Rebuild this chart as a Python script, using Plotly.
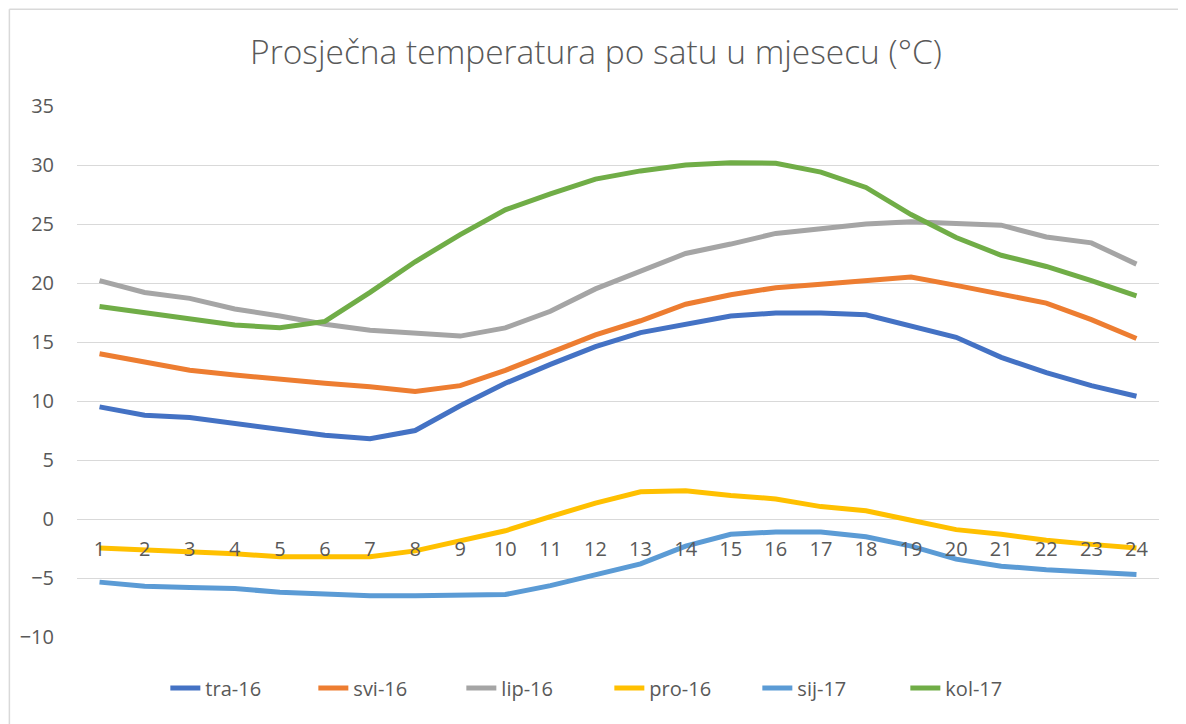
import plotly.graph_objects as go

hours = list(range(1, 25))

tra_16 = [9.5, 8.8, 8.6, 8.1, 7.7, 7.1, 6.8, 7.5, 9.6, 11.5, 13.1, 14.6, 15.8, 16.5, 17.2, 17.45, 17.45,
          17.3, 16.4, 15.4, 13.7, 12.4, 11.3, 10.4]
svi_16 = [14.0, 13.3, 12.6, 12.2, 11.8, 11.5, 11.2, 10.8, 11.3, 12.6, 14.1, 15.6, 16.8, 18.2, 19.0, 19.6, 19.9,
          20.2, 20.5, 19.8, 19.0, 18.3, 16.9, 15.3]
lip_16 = [20.2, 19.2, 18.7, 17.8, 17.2, 16.5, 16.0, 15.75, 15.5, 16.2, 17.6, 19.5, 21.0, 22.5, 23.3, 24.2, 24.6,
          25.0, 25.2, 25.0, 24.9, 23.9, 23.4, 21.6]
pro_16 = [-2.45, -2.6, -2.8, -2.95, -3.2, -3.2, -3.2, -2.7, -1.85, -1.0, 0.2, 1.35, 2.3, 2.4, 2.0, 1.7, 1.05,
          0.7, -0.1, -0.9, -1.3, -1.8, -2.15, -2.45]
sij_17 = [-5.35, -5.7, -5.8, -5.9, -6.2, -6.4, -6.5, -6.5, -6.4, -6.4, -5.65, -4.7, -3.8, -2.3, -1.3, -1.1, -1.1,
          -1.5, -2.3, -3.4, -4.0, -4.3, -4.45, -4.7]
kol_17 = [18.0, 17.5, 17.05, 16.45, 16.2, 16.75, 19.2, 21.8, 24.1, 26.2, 27.55, 28.8, 29.5, 30.0, 30.2, 30.15,
          29.4, 28.1, 25.8, 23.85, 22.35, 21.4, 20.2, 18.9]

series = [
    ("tra-16", tra_16, "#4472C4"),
    ("svi-16", svi_16, "#ED7D31"),
    ("lip-16", lip_16, "#A5A5A5"),
    ("pro-16", pro_16, "#FFC000"),
    ("sij-17", sij_17, "#5B9BD5"),
    ("kol-17", kol_17, "#70AD47"),
]

fig = go.Figure()
for name, vals, color in series:
    fig.add_trace(go.Scatter(
        x=hours, y=vals, name=name, mode="lines",
        line=dict(color=color, width=5, shape="linear"),
    ))

font_color = "#595959"
y_min, y_max = -10, 35
zero_pos = (0 - y_min) / (y_max - y_min)

# page body has an 8px margin, so the figure is offset by 8px
fig.update_layout(
    width=1186, height=724,
    margin=dict(l=69, r=35, t=98, b=95),
    paper_bgcolor="white", plot_bgcolor="white",
    font=dict(family="Open Sans", color=font_color, size=20),
    title=dict(
        text="Prosječna temperatura po satu u mjesecu (°C)",
        x=588 / 1186, xanchor="center", xref="container",
        y=1 - 44 / 724, yanchor="middle", yref="container",
        font=dict(family="Open Sans", size=33.5, color=font_color, weight=300),
    ),
    xaxis=dict(
        range=[0.5, 24.5], tickmode="array", tickvals=hours, ticktext=[str(h) for h in hours],
        showgrid=False, zeroline=False, showline=False, ticks="",
        anchor="free", position=zero_pos, ticklabelstandoff=16,
        tickfont=dict(size=20, color=font_color),
    ),
    yaxis=dict(
        range=[y_min, y_max], dtick=5, showgrid=True, gridcolor="#D9D9D9", gridwidth=1.3,
        zeroline=True, zerolinecolor="#D9D9D9", zerolinewidth=1.3,
        showline=False, ticks="", ticklabelstandoff=22,
        tickfont=dict(size=20, color=font_color), domain=[0, 1],
    ),
    legend=dict(
        orientation="h", x=0.492, xanchor="center", y=-0.096, yanchor="middle",
        font=dict(size=20, color=font_color), entrywidth=103,
    ),
    showlegend=True,
)

# chart area border (left and top edges visible)
fig.add_shape(type="line", xref="paper", yref="paper", x0=-0.0625, x1=-0.0625, y0=-0.2, y1=1.182,
              line=dict(color="#D9D9D9", width=1.5))
fig.add_shape(type="line", xref="paper", yref="paper", x0=-0.0625, x1=1.1, y0=1.182, y1=1.182,
              line=dict(color="#D9D9D9", width=1.5))

fig.write_html("out.html")
